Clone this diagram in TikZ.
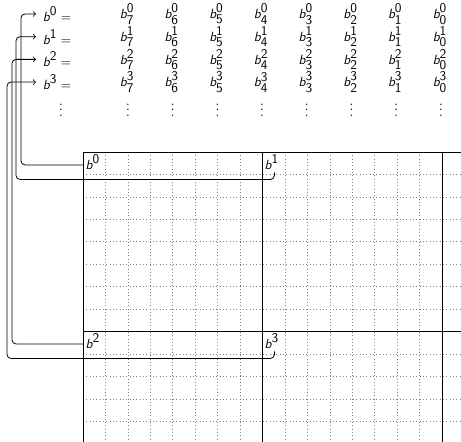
\documentclass[tikz,border=0pt]{standalone}
\newcommand{\bsf}{\textsf{\itshape b}}
\newcommand{\nsf}[1]{\textsf{#1}}

\begin{document}
\begin{tikzpicture}[
	x=0.75pt, y=-0.75pt,
	every node/.style={inner sep=0pt},
	eqlabel/.style={anchor=west, inner xsep=5pt, inner ysep=0pt},
	blocklabel/.style={anchor=north west, inner sep=1.8pt},
	gridline/.style={gray, dotted, line width=0.5pt},
	blockline/.style={black, line width=0.6pt},
	link/.style={->, black, line width=0.6pt, rounded corners=3pt}
]
\useasboundingbox (0,0) rectangle (461,442);

% the equations on top
\foreach \k in {0,...,3} {
	\node[eqlabel] (e\k) at (36,14+22.7*\k) {$\bsf^{\nsf{\k}} =$};
	\foreach \j in {0,...,7}
		\node (c\k\j) at (127+44.7*7-44.7*\j,14+22.7*\k) {$\bsf_{\nsf{\j}}^{\nsf{\k}}$};
}
\node (edots) at (61,106) {$\vdots$};
\foreach \j in {0,...,7}
	\node (cdots\j) at (128+44.7*7-44.7*\j,106) {$\vdots$};

% the grid
\foreach \i in {1,...,12}
	\draw[gridline] (83,152+22.44*\i) -- (461,152+22.44*\i);
\foreach \i in {1,...,16}
	\draw[gridline] (83+22.44*\i,152) -- (83+22.44*\i,442);
\draw[blockline] (83,152) -- (461,152);
\draw[blockline] (83,331) -- (461,331);
\foreach \x in {83,262,442}
	\draw[blockline] (\x,152) -- (\x,442);

\node[blocklabel] (b0) at (83,152) {$\bsf^{\nsf{0}}$};
\node[blocklabel] (b1) at (262,152) {$\bsf^{\nsf{1}}$};
\node[blocklabel] (b2) at (83,331) {$\bsf^{\nsf{2}}$};
\node[blocklabel] (b3) at (262,331) {$\bsf^{\nsf{3}}$};

% rails on the left
\coordinate (r0) at (21,0);
\coordinate (r1) at (16,0);
\coordinate (r2) at (12,0);
\coordinate (r3) at (7,0);

\draw[link] ([yshift=-2pt]b0.west) -- ++(-3,0) -| (r0 |- e0.west) -- (e0.west);
\draw[link] ([xshift=2pt]b1.south) -- ++(0,7) -| (r1 |- e1.west) -- (e1.west);
\draw[link] ([yshift=-2pt]b2.west) -- ++(-3,0) -| (r2 |- e2.west) -- (e2.west);
\draw[link] ([xshift=2pt]b3.south) -- ++(0,7) -| (r3 |- e3.west) -- (e3.west);
\end{tikzpicture}
\end{document}
